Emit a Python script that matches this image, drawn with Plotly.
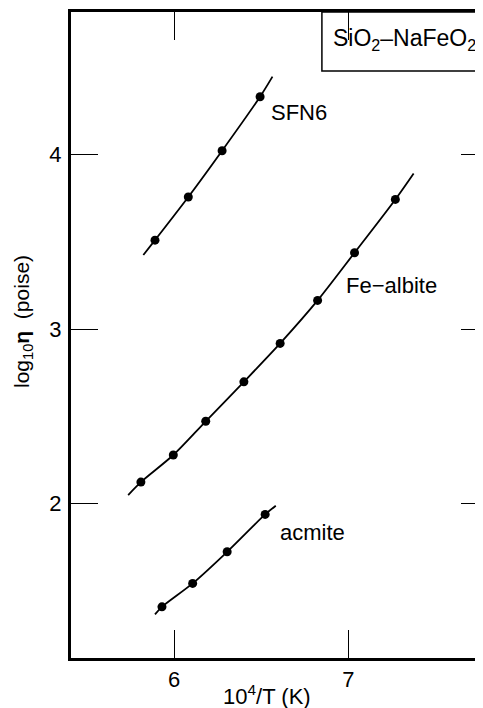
import plotly.graph_objects as go

# ---- data ----
sfn6_x = [5.891, 6.082, 6.276, 6.494]
sfn6_y = [3.509, 3.756, 4.021, 4.330]
sfn6_fit_x = [5.824, 5.891, 6.082, 6.276, 6.494, 6.565]
sfn6_fit_y = [3.424, 3.509, 3.756, 4.021, 4.330, 4.445]

albite_x = [5.810, 5.996, 6.182, 6.401, 6.609, 6.824, 7.036, 7.270]
albite_y = [2.124, 2.279, 2.472, 2.698, 2.918, 3.164, 3.437, 3.742]
albite_fit_x = [5.737, 5.810, 5.996, 6.182, 6.401, 6.609, 6.824, 7.036, 7.270, 7.375]
albite_fit_y = [2.050, 2.124, 2.279, 2.472, 2.698, 2.918, 3.164, 3.437, 3.742, 3.891]

acmite_x = [5.931, 6.107, 6.305, 6.523]
acmite_y = [1.410, 1.544, 1.725, 1.939]
acmite_fit_x = [5.891, 5.931, 6.107, 6.305, 6.523, 6.584]
acmite_fit_y = [1.367, 1.410, 1.544, 1.725, 1.939, 1.989]

x_ticks = [6, 7]
y_ticks = [2, 3, 4]
x_range = [5.409, 7.773]
y_range = [1.117, 4.815]

FONT = "Liberation Sans, Arial, Helvetica, sans-serif"

fig = go.Figure()
for fx, fy, px_, py_ in [
    (sfn6_fit_x, sfn6_fit_y, sfn6_x, sfn6_y),
    (albite_fit_x, albite_fit_y, albite_x, albite_y),
    (acmite_fit_x, acmite_fit_y, acmite_x, acmite_y),
]:
    fig.add_trace(go.Scatter(x=fx, y=fy, mode="lines",
                             line=dict(color="black", width=1.8, shape="spline", smoothing=0.8),
                             showlegend=False, hoverinfo="skip"))
    fig.add_trace(go.Scatter(x=px_, y=py_, mode="markers",
                             marker=dict(color="black", size=9),
                             showlegend=False))

# invisible trace for right-side y ticks
fig.add_trace(go.Scatter(x=[None], y=[None], yaxis="y2", showlegend=False))

fig.update_layout(
    width=475, height=700,
    margin=dict(l=63, r=0, t=4, b=50),
    paper_bgcolor="white", plot_bgcolor="white",
    font=dict(family=FONT, size=22, color="black"),
    xaxis=dict(range=x_range, tickvals=x_ticks, ticks="inside", ticklen=28,
               tickwidth=1.3, tickcolor="black", showline=True, linewidth=3,
               linecolor="black", mirror="ticks", showgrid=False, zeroline=False,
               tickfont=dict(size=22), ticklabelstandoff=0),
    yaxis=dict(range=y_range, tickvals=y_ticks, ticks="inside", ticklen=27,
               tickwidth=1.3, tickcolor="black", showline=True, linewidth=3,
               linecolor="black", mirror=False, showgrid=False, zeroline=False,
               tickfont=dict(size=22), ticklabelstandoff=2),
    yaxis2=dict(range=y_range, tickvals=y_ticks, ticks="inside", ticklen=22,
                tickwidth=1.3, tickcolor="black", showline=False, overlaying="y",
                side="right", showticklabels=False, showgrid=False, zeroline=False),
)

# legend-like box (extends off the right edge)
fig.add_shape(type="rect", xref="paper", yref="paper",
              x0=0.609, x1=1.05, y0=0.9087, y1=1.0,
              line=dict(color="black", width=1.5), fillcolor="rgba(0,0,0,0)")
fig.add_annotation(xref="paper", yref="paper", x=0.630, y=0.957, xanchor="left",
                   yanchor="middle", showarrow=False,
                   text="SiO<sub>2</sub>–NaFeO<sub>2</sub>", font=dict(size=23))

# curve labels
fig.add_annotation(x=6.545, y=4.242, xanchor="left", yanchor="middle", showarrow=False,
                   text="SFN6", font=dict(size=22))
fig.add_annotation(x=6.975, y=3.252, xanchor="left", yanchor="middle", showarrow=False,
                   text="Fe−albite", font=dict(size=22))
fig.add_annotation(x=6.596, y=1.838, xanchor="left", yanchor="middle", showarrow=False,
                   text="acmite", font=dict(size=22))

# axis titles
fig.add_annotation(xref="paper", yref="paper", x=(267 - 71) / 412, y=(658 - 695) / 646,
                   xanchor="center", yanchor="middle", showarrow=False,
                   text="10<sup>4</sup>/T (K)", font=dict(size=22))
fig.add_annotation(xref="paper", yref="paper", x=(23 - 71) / 412, y=(658 - 322) / 646,
                   xanchor="center", yanchor="middle", showarrow=False, textangle=-90,
                   text="log<sub>10</sub><b>η</b>  (poise)", font=dict(size=21))

fig.write_html("out.html")
